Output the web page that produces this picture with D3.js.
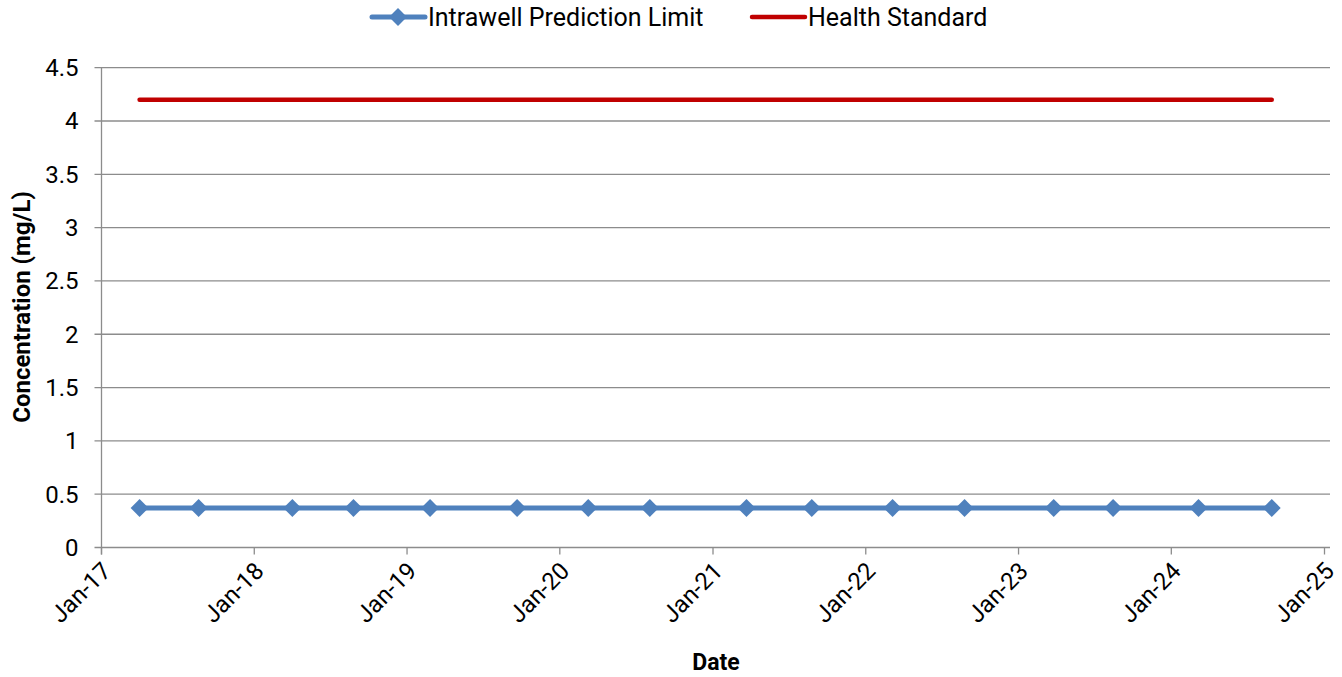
<!DOCTYPE html>
<html>
<head>
<meta charset="utf-8">
<script src="https://cdn.jsdelivr.net/npm/d3@7"></script>
<style>
  html, body { margin: 0; padding: 0; background: #fff; }
  svg { display: block; font-family: Roboto, "Noto Sans", sans-serif; }
</style>
</head>
<body>
<svg id="chart" width="1342" height="677"></svg>
<script>
// ---- data ----
const sampleDates = ["2017-04-02","2017-08-21","2018-04-02","2018-08-26","2019-02-25","2019-09-21",
  "2020-03-09","2020-08-03","2021-03-22","2021-08-25","2022-03-06","2022-08-25",
  "2023-03-26","2023-08-15","2024-03-06","2024-08-28"];
const predictionLimit = [0.37,0.37,0.37,0.37,0.37,0.37,0.37,0.37,0.37,0.37,0.37,0.37,0.37,0.37,0.37,0.37];
const healthDates = ["2017-04-02","2024-08-28"];
const healthStandard = [4.2, 4.2];
const yTicks = [0,0.5,1,1.5,2,2.5,3,3.5,4,4.5];
const xTickDates = ["2017-01-01","2018-01-01","2019-01-01","2020-01-01","2021-01-01","2022-01-01","2023-01-01","2024-01-01","2025-01-01"];
const seriesNames = ["Intrawell Prediction Limit","Health Standard"];

const parse = d3.utcParse("%Y-%m-%d");
const svg = d3.select("#chart");

const plot = {left: 101.5, right: 1324.5, top: 67.7, bottom: 547.5, gridRight: 1330};
const x = d3.scaleUtc().domain([parse(xTickDates[0]), parse(xTickDates[xTickDates.length-1])]).range([plot.left, plot.right]);
const y = d3.scaleLinear().domain([0, 4.5]).range([plot.bottom, plot.top]);

const gridColor = "#8c8c8c";

// gridlines
svg.append("g").selectAll("line").data(yTicks).join("line")
  .attr("x1", plot.left - 7).attr("x2", plot.gridRight)
  .attr("y1", d => y(d)).attr("y2", d => y(d))
  .attr("stroke", gridColor).attr("stroke-width", 1.3);

// y axis line
svg.append("line").attr("x1", plot.left).attr("x2", plot.left)
  .attr("y1", plot.top).attr("y2", plot.bottom + 7)
  .attr("stroke", gridColor).attr("stroke-width", 1.3);

// y tick labels
svg.append("g").selectAll("text").data(yTicks).join("text")
  .attr("x", 78.5).attr("y", d => y(d)).attr("dy", "0.35em")
  .attr("text-anchor", "end").attr("font-size", 24).attr("fill", "#000")
  .text(d => d3.format("")(d));

// x axis ticks
const xTicks = xTickDates.map(parse);
svg.append("g").selectAll("line").data(xTicks).join("line")
  .attr("x1", d => x(d)).attr("x2", d => x(d))
  .attr("y1", plot.bottom).attr("y2", plot.bottom + 7)
  .attr("stroke", gridColor).attr("stroke-width", 1.3);

const fmt = d3.utcFormat("%b-%y");
svg.append("g").selectAll("text").data(xTicks).join("text")
  .attr("transform", d => `translate(${x(d) + 5},${plot.bottom + 19}) rotate(-45)`)
  .attr("text-anchor", "end").attr("dy", "0.35em")
  .attr("font-size", 24).attr("fill", "#000")
  .text(d => fmt(d));

// axis titles
svg.append("text").attr("x", 716).attr("y", 670)
  .attr("text-anchor", "middle").attr("font-size", 23).attr("font-weight", "bold")
  .text("Date");
svg.append("text").attr("transform", "translate(30,307) rotate(-90)")
  .attr("text-anchor", "middle").attr("font-size", 24).attr("font-weight", "bold")
  .text("Concentration (mg/L)");

const blue = "#4f81bd", red = "#c00000";

// health standard line
const hsData = healthDates.map((d, i) => ({date: parse(d), v: healthStandard[i]}));
svg.append("path").datum(hsData)
  .attr("d", d3.line().x(d => x(d.date)).y(d => y(d.v)))
  .attr("fill", "none").attr("stroke", red).attr("stroke-width", 4.5).attr("stroke-linecap", "round");

// prediction limit line
const plData = sampleDates.map((d, i) => ({date: parse(d), v: predictionLimit[i]}));
svg.append("path").datum(plData)
  .attr("d", d3.line().x(d => x(d.date)).y(d => y(d.v)))
  .attr("fill", "none").attr("stroke", blue).attr("stroke-width", 5).attr("stroke-linejoin", "round");

const diamond = d3.symbol().type(d3.symbolSquare).size(160);
svg.append("g").selectAll("path").data(plData).join("path")
  .attr("d", diamond)
  .attr("transform", d => `translate(${x(d.date)},${y(d.v)}) rotate(45)`)
  .attr("fill", blue);

// legend
const lg = svg.append("g");
lg.append("line").attr("x1", 372).attr("x2", 425).attr("y1", 17).attr("y2", 17)
  .attr("stroke", blue).attr("stroke-width", 5).attr("stroke-linecap", "round");
lg.append("path").attr("d", diamond).attr("transform", "translate(398,17) rotate(45)").attr("fill", blue);
lg.append("text").attr("x", 428).attr("y", 17).attr("dy", "0.35em")
  .attr("font-size", 25).text(seriesNames[0]);
lg.append("line").attr("x1", 752).attr("x2", 805).attr("y1", 17).attr("y2", 17)
  .attr("stroke", red).attr("stroke-width", 4.5).attr("stroke-linecap", "round");
lg.append("text").attr("x", 808).attr("y", 17).attr("dy", "0.35em")
  .attr("font-size", 25).text(seriesNames[1]);
</script>
</body>
</html>
